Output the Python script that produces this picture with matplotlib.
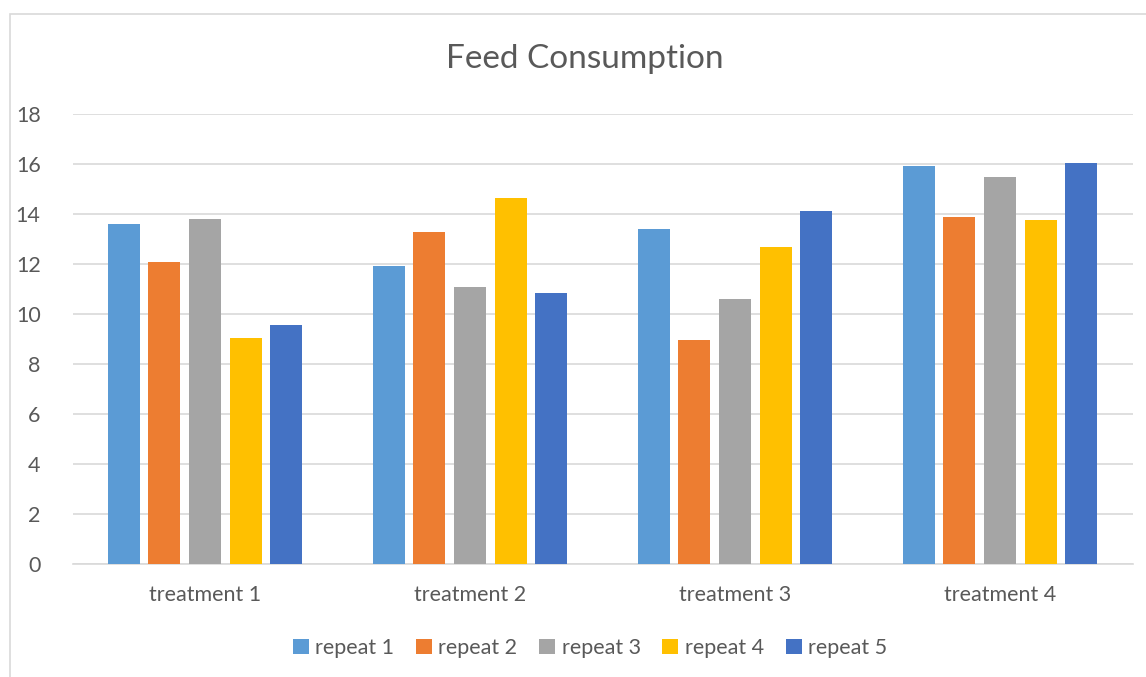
import matplotlib
matplotlib.use("Agg")
import matplotlib.pyplot as plt
from matplotlib.patches import Rectangle, Patch
import numpy as np

plt.rcParams['font.family'] = ['Lato', 'DejaVu Sans']

categories = ["treatment 1", "treatment 2", "treatment 3", "treatment 4"]
series_names = ["repeat 1", "repeat 2", "repeat 3", "repeat 4", "repeat 5"]
repeat1 = [13.6, 11.92, 13.4, 15.92]
repeat2 = [12.1, 13.3, 8.97, 13.9]
repeat3 = [13.8, 11.08, 10.6, 15.49]
repeat4 = [9.05, 14.63, 12.68, 13.76]
repeat5 = [9.55, 10.83, 14.13, 16.04]
series = [repeat1, repeat2, repeat3, repeat4, repeat5]
colors = ["#5B9BD5", "#ED7D31", "#A5A5A5", "#FFC000", "#4472C4"]
yticks = [0, 2, 4, 6, 8, 10, 12, 14, 16, 18]

W, H = 1146, 677
fig = plt.figure(figsize=(W / 100, H / 100), dpi=100)
ax = fig.add_axes([72.5 / W, 1 - 564 / H, (1132.5 - 72.5) / W, (564 - 114) / H])

x = np.arange(len(categories))
step = 0.153
width = 0.121
for i, (vals, c) in enumerate(zip(series, colors)):
    ax.bar(x + (i - 2) * step, vals, width=width, color=c, zorder=3, label=series_names[i])

ax.set_xlim(-0.5, len(categories) - 0.5)
ax.set_ylim(0, 18)
ax.set_yticks(yticks)
ax.set_xticks(x)
ax.set_xticklabels(categories)
ax.grid(axis='y', color='#D9D9D9', linewidth=1.2, zorder=0)
for s in ['top', 'right', 'left']:
    ax.spines[s].set_visible(False)
ax.spines['bottom'].set_color('#D9D9D9')
ax.spines['bottom'].set_linewidth(1.2)
ax.tick_params(axis='both', length=0, labelsize=15.5, colors='#595959')
ax.tick_params(axis='x', pad=15)
ax.tick_params(axis='y', pad=23)

fig.text(585 / W, 1 - 59 / H, "Feed Consumption", ha='center', va='center',
         fontsize=24, color='#595959')

handles = [Patch(facecolor=c, edgecolor='none') for c in colors]
fig.legend(handles, series_names, loc='center', bbox_to_anchor=(590 / W, 1 - 648 / H),
           ncol=5, frameon=False, fontsize=15.5, handlelength=0.75, handleheight=0.75,
           handletextpad=0.3, columnspacing=1.0, labelcolor='#595959')

fig.patches.append(Rectangle((10 / W, -0.1), 1.2, 1.1 - 14 / H, transform=fig.transFigure,
                             fill=False, edgecolor='#D9D9D9', linewidth=1.2))

fig.savefig("out.png", dpi=100)
